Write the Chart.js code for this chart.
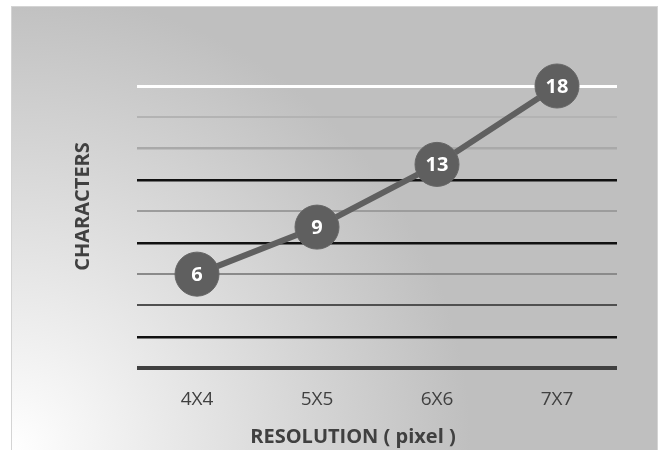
<!DOCTYPE html>
<html>
<head>
<meta charset="utf-8">
<script src="https://cdn.jsdelivr.net/npm/chart.js@4/dist/chart.umd.min.js"></script>
<style>
  html, body { margin: 0; padding: 0; background: #ffffff; }
  #wrap { width: 662px; height: 450px; }
</style>
</head>
<body>
<div id="wrap"><canvas id="c" width="662" height="450"></canvas></div>
<script>
// ---- data ----
const categories = ["4X4", "5X5", "6X6", "7X7"];
const characters = [6, 9, 13, 18];
const yMin = 0, yMax = 18, yStep = 2;
const xTitle = "RESOLUTION ( pixel )";
const yTitle = "CHARACTERS";

// ---- styles (gridline per value) ----
const gridColors = {0: "#404040", 2: "#111111", 4: "#505050", 6: "#8a8a8a", 8: "#111111",
                    10: "#9c9c9c", 12: "#111111", 14: "#a9a9a9", 16: "#b3b3b3", 18: "#ffffff"};
const gridWidths = {0: 4, 2: 2.5, 4: 2, 6: 2, 8: 2.5, 10: 2, 12: 2.5, 14: 2.5, 16: 2, 18: 3};

const FONT = "'Open Sans', 'Liberation Sans', sans-serif";

const bgPlugin = {
  id: "bg",
  beforeDraw(chart) {
    const ctx = chart.ctx;
    ctx.save();
    ctx.fillStyle = "#ffffff";
    ctx.fillRect(0, 0, chart.width, chart.height);
    const x0 = 11, y0 = 6, x1 = 658, y1 = 450;
    const g = ctx.createRadialGradient(x0, y1, 0, x0, y1, 460);
    g.addColorStop(0, "#ffffff");
    g.addColorStop(1, "#bfbfbf");
    ctx.fillStyle = g;
    ctx.fillRect(x0, y0, x1 - x0, y1 - y0);
    ctx.strokeStyle = "#d4d4d4";
    ctx.lineWidth = 1;
    ctx.strokeRect(x0 + 0.5, y0 + 0.5, x1 - x0 - 1, y1 - y0);
    ctx.restore();
  }
};

const labelPlugin = {
  id: "pointLabels",
  afterDatasetsDraw(chart) {
    const ctx = chart.ctx;
    const meta = chart.getDatasetMeta(0);
    ctx.save();
    ctx.fillStyle = "#ffffff";
    ctx.font = "bold 20px " + FONT;
    ctx.textAlign = "center";
    ctx.textBaseline = "alphabetic";
    meta.data.forEach((pt, i) => {
      ctx.fillText(String(chart.data.datasets[0].data[i]), pt.x, pt.y + 7);
    });
    ctx.restore();
  }
};

const titlePlugin = {
  id: "axisTitles",
  afterDraw(chart) {
    const ctx = chart.ctx;
    const a = chart.chartArea;
    ctx.save();
    ctx.fillStyle = "#404040";
    ctx.font = "bold 20px " + FONT;
    ctx.textAlign = "center";
    ctx.textBaseline = "alphabetic";
    ctx.fillText(xTitle, a.left + (a.right - a.left) * 0.45, 443);
    ctx.translate(89, a.top + (a.bottom - a.top) * 0.427);
    ctx.rotate(-Math.PI / 2);
    ctx.fillText(yTitle, 0, 0);
    ctx.restore();
  }
};

new Chart(document.getElementById("c"), {
  type: "line",
  data: {
    labels: categories,
    datasets: [{
      data: characters,
      borderColor: "#606060",
      borderWidth: 6,
      backgroundColor: "#606060",
      pointBackgroundColor: "#5f5f5f",
      pointBorderColor: "#666666",
      pointBorderWidth: 1,
      pointRadius: 22,
      pointHoverRadius: 22,
      tension: 0,
      clip: false
    }]
  },
  options: {
    responsive: false,
    animation: false,
    events: [],
    layout: { padding: { left: 137, right: 45, top: 86, bottom: 19 } },
    plugins: { legend: { display: false }, tooltip: { enabled: false } },
    scales: {
      x: {
        offset: true,
        grid: { display: false, drawTicks: false },
        border: { display: false },
        ticks: { color: "#404040", font: { family: FONT, size: 19 }, padding: 20 }
      },
      y: {
        min: yMin, max: yMax,
        grid: {
          drawTicks: false,
          color: (c) => gridColors[c.tick.value] || "#888888",
          lineWidth: (c) => gridWidths[c.tick.value] || 2
        },
        border: { display: false },
        ticks: { display: false, stepSize: yStep }
      }
    }
  },
  plugins: [bgPlugin, labelPlugin, titlePlugin]
});
</script>
</body>
</html>
